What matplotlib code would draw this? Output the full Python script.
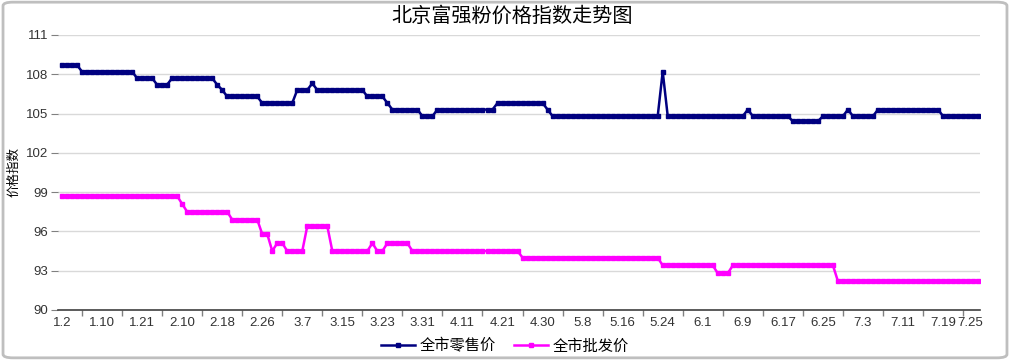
import matplotlib
matplotlib.use("Agg")
import matplotlib.pyplot as plt
from matplotlib.patches import FancyBboxPatch
from matplotlib.ticker import FixedLocator
from matplotlib.transforms import ScaledTranslation

plt.rcParams['font.family'] = ['Noto Sans CJK SC', 'DejaVu Sans']

# (value, number of consecutive days)
retail_runs = [(108.7, 4), (108.2, 11), (107.7, 4), (107.2, 3), (107.7, 9), (107.2, 1),
               (106.8, 1), (106.3, 7), (105.8, 7), (106.8, 3), (107.3, 1), (106.8, 10),
               (106.3, 4), (105.8, 1), (105.3, 6), (104.8, 3), (105.3, 12), (105.8, 10),
               (105.3, 1), (104.8, 22), (108.2, 1), (104.8, 16), (105.3, 1), (104.8, 8),
               (104.4, 6), (104.8, 5), (105.3, 1), (104.8, 5), (105.3, 13), (104.8, 8)]
wholesale_runs = [(98.7, 24), (98.1, 1), (97.5, 9), (96.9, 6), (95.8, 2), (94.5, 1),
                  (95.1, 2), (94.5, 4), (96.4, 5), (94.5, 8), (95.1, 1), (94.5, 2),
                  (95.1, 5), (94.5, 22), (94.0, 28), (93.4, 11), (92.8, 3), (93.4, 21),
                  (92.2, 29)]
tick_labels = ['1.2', '1.10', '1.21', '2.10', '2.18', '2.26', '3.7', '3.15', '3.23', '3.31',
               '4.11', '4.21', '4.30', '5.8', '5.16', '5.24', '6.1', '6.9', '6.17', '6.25',
               '7.3', '7.11', '7.19', '7.25']
y_ticks = [90, 93, 96, 99, 102, 105, 108, 111]
series_names = ['全市零售价', '全市批发价']


def expand(runs):
    out = []
    for v, n in runs:
        out += [v] * n
    return out


retail = expand(retail_runs)
wholesale = expand(wholesale_runs)
xs = list(range(len(retail)))

num_font = 'Liberation Sans'

fig = plt.figure(figsize=(10.1, 3.6), dpi=100)
ax = fig.add_axes([0.0574, 0.139, 0.913, 0.764])

ax.plot(xs, retail, color='#000080', lw=1.8, marker='s', ms=2.6, mec='#000080',
        label=series_names[0])
ax.plot(xs, wholesale, color='#FF00FF', lw=1.8, marker='s', ms=2.6, mec='#FF00FF',
        label=series_names[1])

ax.set_ylim(90, 111)
ax.set_yticks(y_ticks)
ax.set_xlim(-0.8, len(xs) - 0.6)
ax.grid(axis='y', color='#d9d9d9', lw=1)
ax.set_axisbelow(True)

# labels every 8 days, last day labelled too
pos = list(range(0, len(xs) - 7, 8)) + [len(xs) - 1]
ax.set_xticks(pos)
ax.set_xticklabels(tick_labels, fontsize=9.5, color='#333333', family=num_font)
ax.tick_params(axis='x', length=0, pad=5)
# pull the last label a bit inside, as the original does
last = ax.get_xticklabels()[-1]
last.set_transform(last.get_transform() + ScaledTranslation(-6 / 72, 0, fig.dpi_scale_trans))
ax.xaxis.set_minor_locator(FixedLocator(list(range(4, len(xs) - 3, 8))))
ax.tick_params(axis='x', which='minor', length=4, color='#808080', width=1)
ax.tick_params(axis='y', length=5, color='#808080', labelsize=9.5, labelcolor='#333333', pad=2)
for t in ax.get_yticklabels():
    t.set_family(num_font)

for s in ['top', 'right', 'left']:
    ax.spines[s].set_visible(False)
ax.spines['bottom'].set_color('#404040')
ax.spines['bottom'].set_linewidth(1.2)

ax.set_ylabel('价格指数', fontsize=9, labelpad=4)
fig.text(0.507, 0.955, '北京富强粉价格指数走势图', ha='center', va='center', fontsize=14.5)

fig.legend(loc='center', bbox_to_anchor=(0.5, 0.038), ncol=2, frameon=False,
           fontsize=11, handlelength=2.2, columnspacing=1.2, handletextpad=0.3)

fig.patches.append(FancyBboxPatch((0.003, 0.006), 0.994, 0.988, boxstyle='round,pad=0,rounding_size=0.01',
                                  transform=fig.transFigure, fill=False, ec='#bfbfbf', lw=2))

fig.savefig('out.png', dpi=100)
